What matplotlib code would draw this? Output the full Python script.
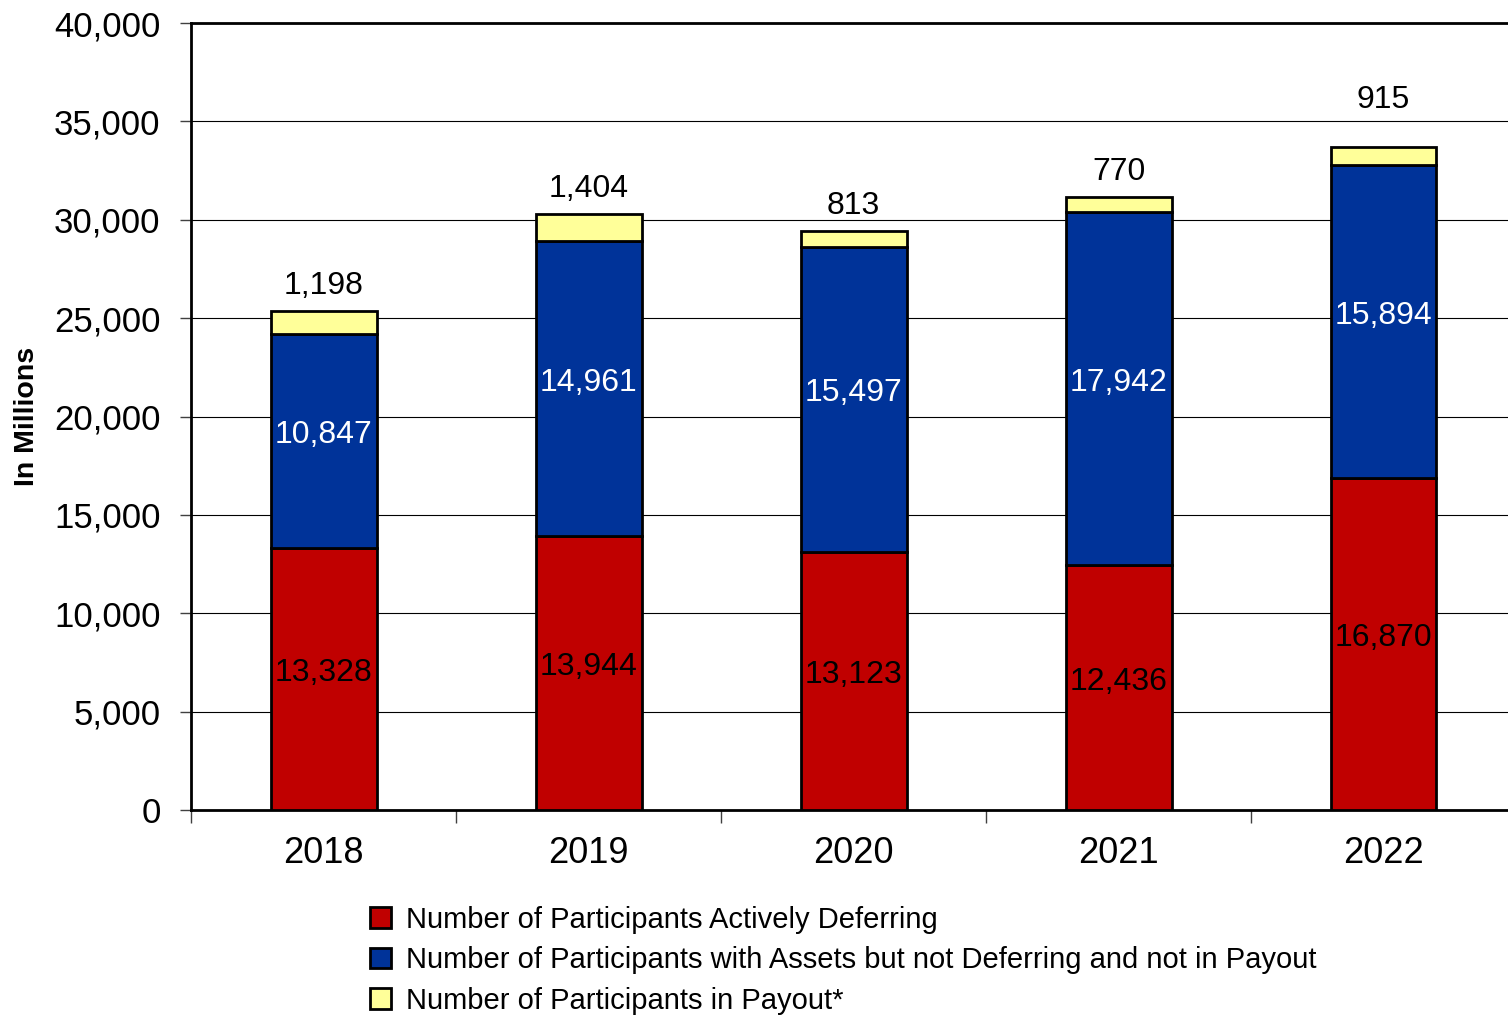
import numpy as np
import matplotlib.pyplot as plt
from matplotlib.ticker import FuncFormatter, FixedLocator

plt.rcParams['font.family'] = ['Liberation Sans', 'DejaVu Sans']

# Participant counts by year (in millions)
years = ['2018', '2019', '2020', '2021', '2022']
deferring = [13328, 13944, 13123, 12436, 16870]
assets_not_deferring = [10847, 14961, 15497, 17942, 15894]
in_payout = [1198, 1404, 813, 770, 915]

series_labels = [
    'Number of Participants Actively Deferring',
    'Number of Participants with Assets but not Deferring and not in Payout',
    'Number of Participants in Payout*',
]
colors = ['#C00000', '#003399', '#FFFF99']
text_colors = ['black', 'white']

fig = plt.figure(figsize=(15.08, 10.18), dpi=100)
ax = fig.add_axes([0.1267, 0.2043, 0.8786, 0.7731])

x = np.arange(len(years))
width = 0.4
bottom = np.zeros(len(years))
bars = []
for vals, color, label in zip([deferring, assets_not_deferring, in_payout], colors, series_labels):
    b = ax.bar(x, vals, width, bottom=bottom, color=color, edgecolor='black',
               linewidth=2.0, label=label, zorder=3)
    bars.append(b)
    bottom = bottom + np.array(vals)

fmt = lambda v: f'{v:,.0f}'

# value labels inside the lower two segments
for b, vals, tc in zip(bars[:2], [deferring, assets_not_deferring], text_colors):
    for rect, v in zip(b, vals):
        ax.text(rect.get_x() + rect.get_width() / 2, rect.get_y() + v / 2 + 300,
                fmt(v), ha='center', va='center', fontsize=23, color=tc, zorder=4)

# payout labels above each stack
top_offsets = [7, 7, 7, 7, 23]
for rect, v, off in zip(bars[2], in_payout, top_offsets):
    ax.annotate(fmt(v), (rect.get_x() + rect.get_width() / 2, rect.get_y() + v),
                xytext=(0, off), textcoords='offset points',
                ha='center', va='bottom', fontsize=23, zorder=4)

ax.set_xlim(-0.5, 4.5)
ax.set_ylim(0, 40000)
ax.set_yticks(np.arange(0, 40001, 5000))
ax.yaxis.set_major_formatter(FuncFormatter(lambda v, p: fmt(v)))
ax.yaxis.grid(True, color='black', linewidth=0.8, zorder=0)

ax.set_xticks(x)
ax.set_xticklabels(years)
ax.xaxis.set_minor_locator(FixedLocator(np.arange(-0.5, 4.6, 1)))
ax.tick_params(axis='x', which='major', length=0, pad=19, labelsize=26)
ax.tick_params(axis='x', which='minor', length=9, width=1, color='#404040')
ax.tick_params(axis='y', length=8, width=1, pad=14, labelsize=25, color='#404040')

for side in ['left', 'bottom', 'top']:
    ax.spines[side].set_linewidth(2.0)
ax.spines['right'].set_visible(False)

fig.text(0.0178, 0.5906, 'In Millions', rotation=90, ha='center', va='center',
         fontsize=20.5, fontweight='bold')

fig.legend(loc='upper left', bbox_to_anchor=(0.2455, 0.110), frameon=False,
           fontsize=21, handlelength=0.72, handleheight=0.72, handletextpad=0.5,
           labelspacing=0.42, borderpad=0, borderaxespad=0)

fig.savefig('out.png', dpi=100)
